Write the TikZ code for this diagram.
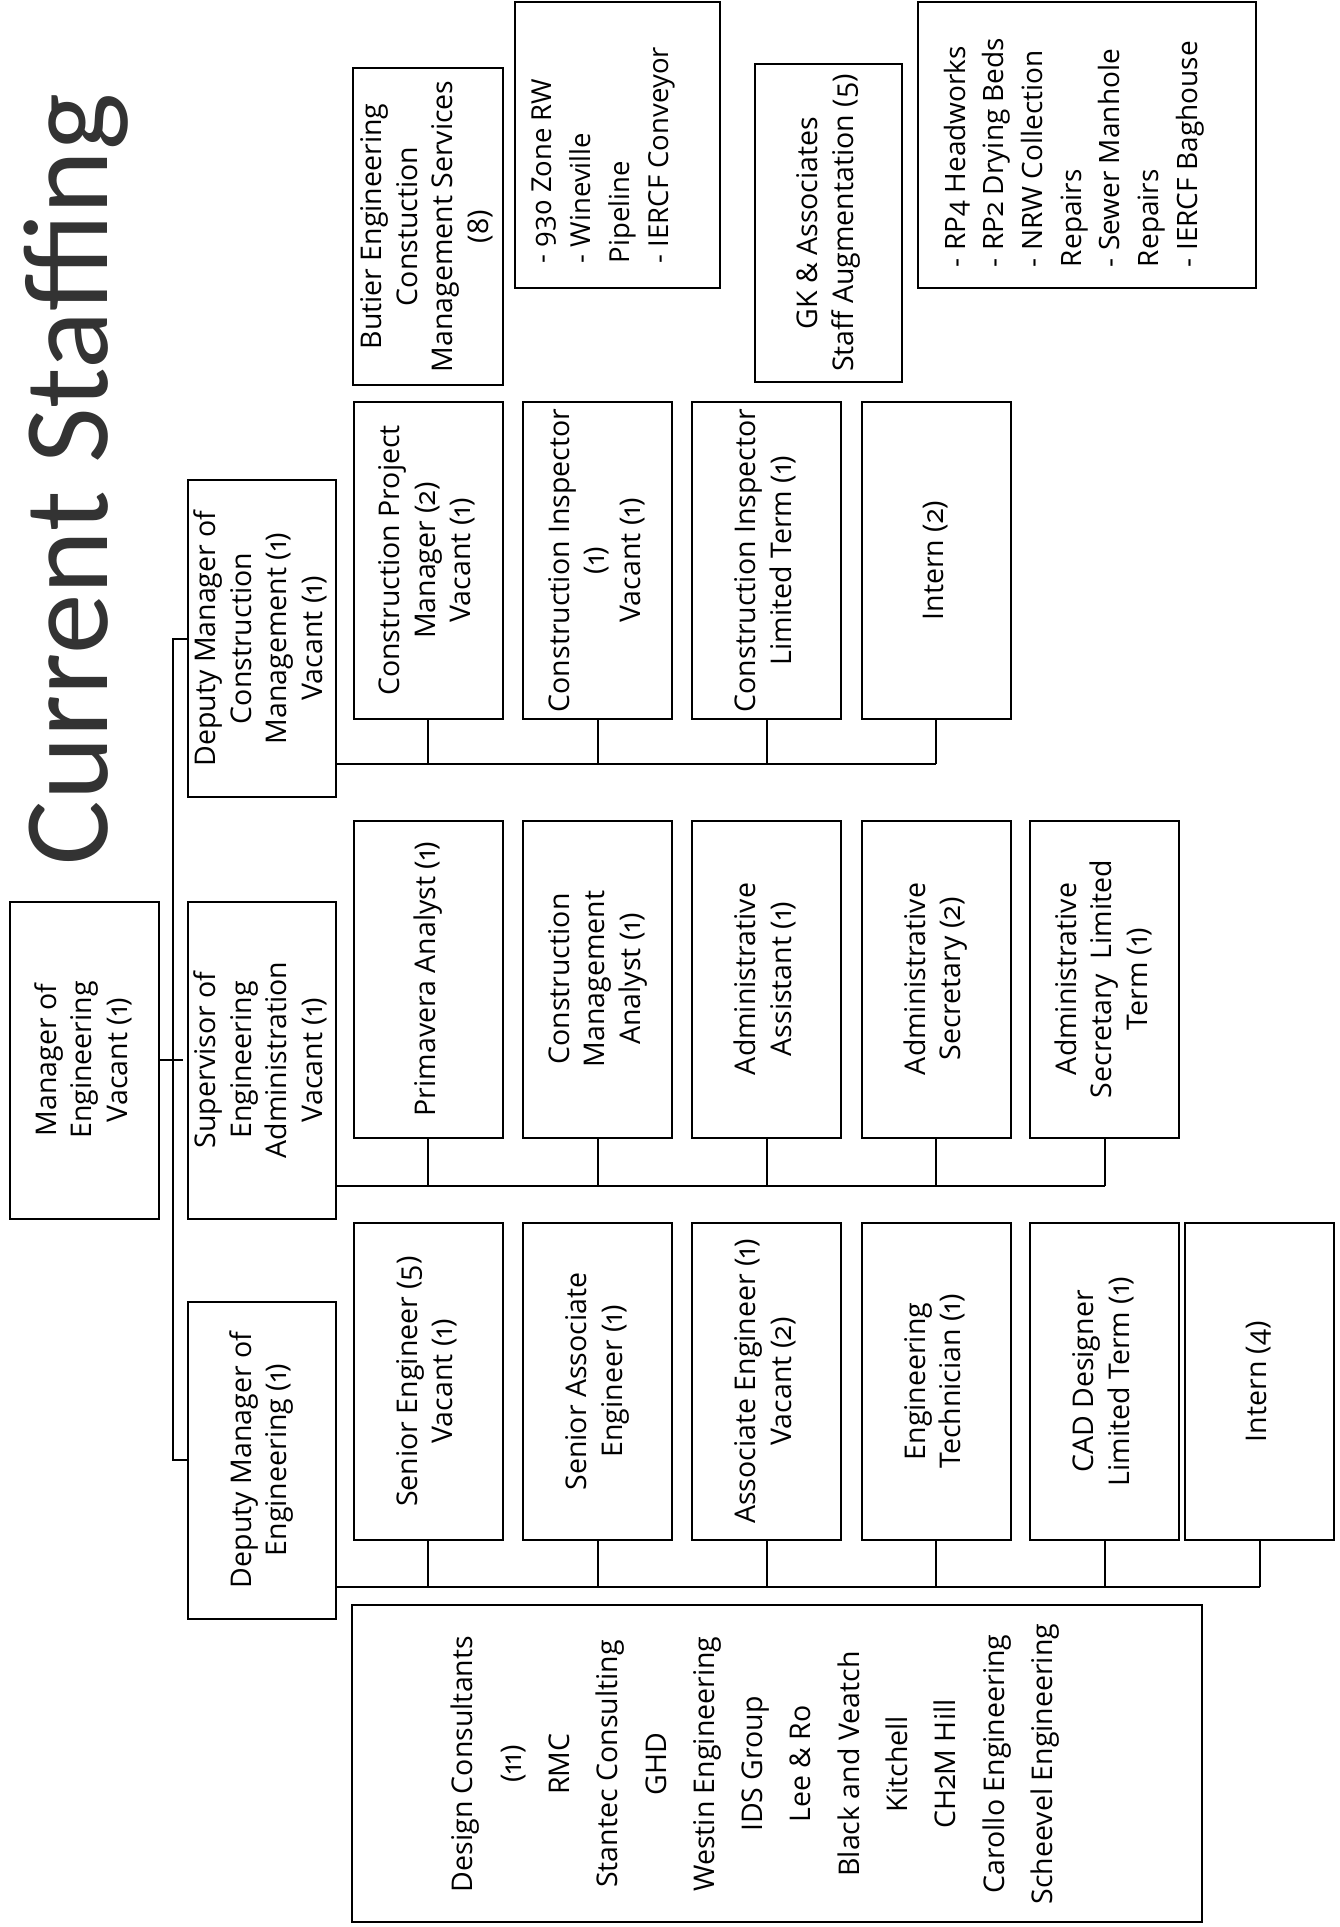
\documentclass[tikz,border=0pt]{standalone}
\usepackage{fontspec}
\setmainfont{Open Sans}[Numbers=OldStyle]
\newfontfamily\titlefont{Carlito}
\usepackage{graphicx}
\newcommand{\rtc}[1]{\rotatebox{90}{\begin{tabular}{@{}c@{}}#1\end{tabular}}}
\newcommand{\rtl}[1]{\rotatebox{90}{\begin{tabular}{@{}l@{}}#1\end{tabular}}}
\begin{document}
\begin{tikzpicture}[x=1pt,y=-1pt,
  box/.style={draw, line width=2pt, inner sep=0pt, outer sep=0pt,
    minimum width=149pt, minimum height=317pt,
    font=\fontsize{28.5}{35.5}\selectfont},
  conn/.style={line width=2pt},
  txt/.style={inner sep=0pt, outer sep=0pt}]
\useasboundingbox[fill=white] (0,0) rectangle (1340,1927);

% title
\node[txt, rotate=90, anchor=base, font=\titlefont\fontsize{121}{140}\selectfont, text=black!80] (title) at (107,479.5) {Current Staffing};

% level 1 and 2
\node[box] (mgr) at (84.5,1060) {\rtc{Manager of\\Engineering\\Vacant (1)}};
\node[box, minimum width=148pt] (dmcm) at (262,638.5) {\rtc{Deputy Manager of\\Construction\\Management (1)\\Vacant (1)}};
\node[box, minimum width=148pt] (sup) at (262,1060) {\rtc{Supervisor of\\Engineering\\Administration\\Vacant (1)}};
\node[box, minimum width=148pt] (dme) at (262,1460) {\rtc{Deputy Manager of\\Engineering (1)}};

% construction row
\node[box] (c1) at (428,560.5) {\rtc{Construction Project\\Manager (2)\\Vacant (1)}};
\node[box] (c2) at (597.5,560.5) {\rtc{Construction Inspector\\(1)\\Vacant (1)}};
\node[box] (c3) at (766.5,560.5) {\rtc{Construction Inspector\\Limited Term (1)}};
\node[box] (c4) at (936,560.5) {\rtc{Intern (2)}};

% administration row
\node[box] (a1) at (428,979) {\rtc{Primavera Analyst (1)}};
\node[box] (a2) at (597.5,979) {\rtc{Construction\\Management\\Analyst (1)}};
\node[box] (a3) at (766.5,979) {\rtc{Administrative\\Assistant (1)}};
\node[box] (a4) at (936,979) {\rtc{Administrative\\Secretary (2)}};
\node[box] (a5) at (1104.5,979) {\rtc{Administrative\\Secretary\ \ Limited\\Term (1)}};

% engineering row
\node[box] (e1) at (428,1381.5) {\rtc{Senior Engineer (5)\\Vacant (1)}};
\node[box] (e2) at (597.5,1381.5) {\rtc{Senior Associate\\Engineer (1)}};
\node[box] (e3) at (766.5,1381.5) {\rtc{Associate Engineer (1)\\Vacant (2)}};
\node[box] (e4) at (936,1381.5) {\rtc{Engineering\\Technician (1)}};
\node[box] (e5) at (1104.5,1381.5) {\rtc{CAD Designer\\Limited Term (1)}};
\node[box] (e6) at (1259.5,1381.5) {\rtc{Intern (4)}};

% top consultant boxes
\node[box, minimum width=150pt] (but) at (428,226.5) {\rtc{Butier Engineering\\Constuction\\Management Services\\(8)}};
\node[box, minimum width=205pt, minimum height=286pt] (z930) at (617.5,145) {};
\node[txt, anchor=south west, font=\fontsize{27.5}{39}\selectfont] (z930t) at (523.7,263) {\rtl{- 930 Zone RW\\- Wineville\\Pipeline\\- IERCF Conveyor}};
\node[box, minimum width=147pt] (gk) at (828.5,223) {\rtc{GK \& Associates\\Staff Augmentation (5)}};
\node[box, minimum width=338pt, minimum height=286pt] (rp4) at (1087,145) {};
\node[txt, anchor=south west, font=\fontsize{28}{38.7}\selectfont] (rp4t) at (937.9,267) {\rtl{- RP4 Headworks\\- RP2 Drying Beds\\- NRW Collection\\Repairs\\- Sewer Manhole\\Repairs\\- IERCF Baghouse}};

% design consultants
\node[box, minimum width=850pt] (dc) at (777,1763.5) {};
\node[txt, font=\fontsize{28.5}{48.3}\selectfont] (dct) at (753,1764) {\rtc{Design Consultants\\(11)\\RMC\\Stantec Consulting\\GHD\\Westin Engineering\\IDS Group\\Lee \& Ro\\Black and Veatch\\Kitchell\\CH2M Hill\\Carollo Engineering\\Scheevel Engineering}};

% connectors
\coordinate (spx) at (173,0);
\coordinate (tickend) at (183,1060);
\draw[conn] (dmcm.west) -- (dmcm.west -| spx) -- (dme.west -| spx) -- (dme.west);
\draw[conn] (mgr.east) -- (tickend);

\coordinate (cbus) at (0,764);
\coordinate (abus) at (0,1186);
\coordinate (ebus) at (0,1587);
\draw[conn] (dmcm.east |- cbus) -- (c4.south |- cbus);
\foreach \n in {c1,c2,c3,c4} \draw[conn] (\n.south) -- (\n.south |- cbus);
\draw[conn] (sup.east |- abus) -- (a5.south |- abus);
\foreach \n in {a1,a2,a3,a4,a5} \draw[conn] (\n.south) -- (\n.south |- abus);
\draw[conn] (dme.east |- ebus) -- (e6.south |- ebus);
\foreach \n in {e1,e2,e3,e4,e5,e6} \draw[conn] (\n.south) -- (\n.south |- ebus);
\end{tikzpicture}
\end{document}
